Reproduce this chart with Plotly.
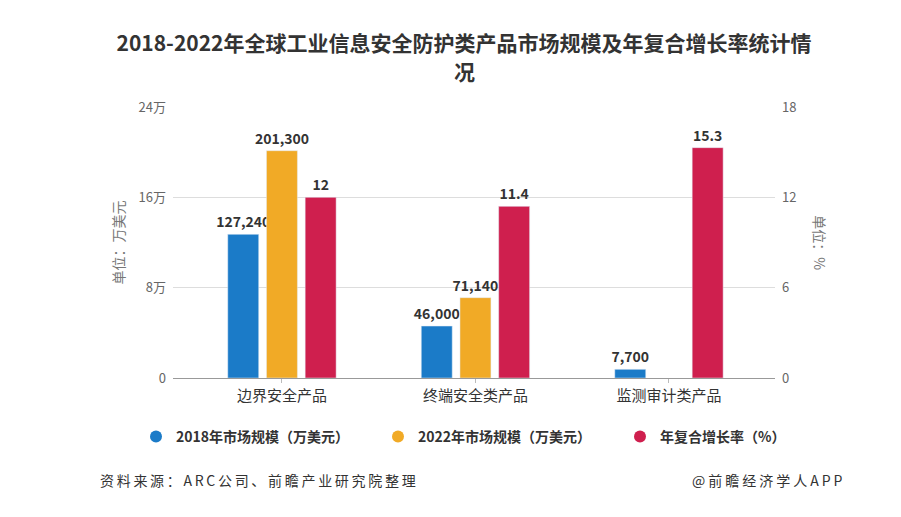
import plotly.graph_objects as go

categories = ["边界安全产品", "终端安全类产品", "监测审计类产品"]
size_2018 = [127240, 46000, 7700]
size_2022 = [201300, 71140, None]
cagr = [12, 11.4, 15.3]
left_ticks = [0, 80000, 160000, 240000]
left_tick_text = ["0", "8万", "16万", "24万"]
right_ticks = [0, 6, 12, 18]
legend_names = ["2018年市场规模（万美元）", "2022年市场规模（万美元）", "年复合增长率（%）"]

BLUE = "#1b7bc8"
YELLOW = "#f1aa26"
RED = "#cf1f4e"
FONT = "Noto Sans CJK SC"
label_font = dict(family=FONT, size=14, color="#333333", weight="bold")

fig = go.Figure()
W = 0.16
fig.add_trace(go.Bar(x=categories, y=size_2018, width=W, offset=-0.28, marker_color=BLUE,
                     texttemplate="%{y:,}", textposition="outside", textfont=label_font,
                     constraintext="none", cliponaxis=False, showlegend=False, yaxis="y"))
fig.add_trace(go.Bar(x=categories, y=size_2022, width=W, offset=-0.08, marker_color=YELLOW,
                     texttemplate="%{y:,}", textposition="outside", textfont=label_font,
                     constraintext="none", cliponaxis=False, showlegend=False, yaxis="y"))
fig.add_trace(go.Bar(x=categories, y=cagr, width=W, offset=0.12, marker_color=RED,
                     texttemplate="%{y}", textposition="outside", textfont=label_font,
                     constraintext="none", cliponaxis=False, showlegend=False, yaxis="y2"))

for name, col in zip(legend_names, [BLUE, YELLOW, RED]):
    fig.add_trace(go.Scatter(x=[None], y=[None], mode="markers", name=name,
                             marker=dict(symbol="circle", size=14, color=col)))

title_font = dict(family=FONT, size=21, color="#333333", weight="bold")

fig.update_layout(
    width=901, height=517,
    margin=dict(l=173, r=126, t=107, b=139),
    paper_bgcolor="white", plot_bgcolor="white",
    barmode="overlay",
    font=dict(family=FONT, color="#666666"),
    title=dict(text="2018-2022年全球工业信息安全防护类产品市场规模及年复合增长率统计情",
               x=0.515, xanchor="center", y=1 - 44 / 517, yanchor="middle",
               font=title_font),
    xaxis=dict(range=[-0.563, 2.548], showgrid=False, showline=True, linecolor="#999999",
               ticks="outside", ticklen=4, tickcolor="#bbbbbb",
               tickfont=dict(family=FONT, size=15, color="#333333")),
    yaxis=dict(range=[0, 240000], tickvals=left_ticks, ticktext=left_tick_text,
               showgrid=True, gridcolor="#dddddd", zeroline=False, ticklabelstandoff=6,
               tickfont=dict(family=FONT, size=13, color="#666666")),
    yaxis2=dict(range=[0, 18], tickvals=right_ticks, overlaying="y", side="right",
                showgrid=False, zeroline=False, ticklabelstandoff=6,
                tickfont=dict(family=FONT, size=13, color="#666666")),
    legend=dict(orientation="h", x=-37 / 602, xanchor="left",
                y=(378 - 437) / 271, yanchor="middle",
                font=dict(family=FONT, size=14, color="#333333", weight="bold"),
                entrywidth=197, entrywidthmode="pixels",
                itemsizing="constant", bgcolor="rgba(0,0,0,0)"),
    annotations=[
        dict(text="况", xref="paper", yref="paper", x=0.515 * 901 / 602 - 173 / 602,
             xanchor="center", y=(378 - 71) / 271, yanchor="middle", showarrow=False,
             font=title_font),
        dict(text="单位：万美元", xref="paper", yref="paper", x=-0.093, xanchor="center",
             y=0.5, yanchor="middle",
             textangle=-90, showarrow=False, font=dict(family=FONT, size=14, color="#777777")),
        dict(text="单位：%", xref="paper", yref="paper", x=1.075, xanchor="center",
             y=0.5, yanchor="middle",
             textangle=90, showarrow=False, font=dict(family=FONT, size=14, color="#777777")),
        dict(text='<span style="letter-spacing:2.7px">资料来源：ARC公司、前瞻产业研究院整理</span>',
             xref="paper", yref="paper",
             x=-0.125, xanchor="left", y=-0.376, yanchor="middle", showarrow=False,
             font=dict(family=FONT, size=14, color="#333333")),
        dict(text='<span style="letter-spacing:3px">@前瞻经济学人APP</span>',
             xref="paper", yref="paper",
             x=1.119, xanchor="right", y=-0.376, yanchor="middle", showarrow=False,
             font=dict(family=FONT, size=14, color="#333333")),
    ],
)

fig.write_html("out.html")
